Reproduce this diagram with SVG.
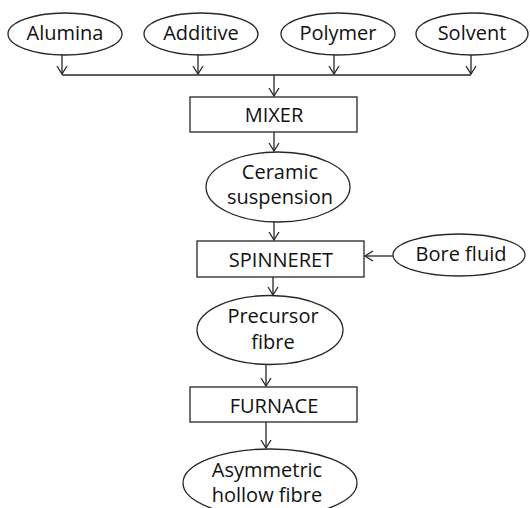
<svg xmlns="http://www.w3.org/2000/svg" width="530" height="508" viewBox="0 0 530 508">
<style>
.s{fill:#fff;stroke:#262626;stroke-width:1.3}
.t{font-family:"Open Sans","Liberation Sans",sans-serif;font-size:20px;fill:#111;text-anchor:middle}
.c{fill:none;stroke:#262626;stroke-width:1.3}
</style>
<defs>
<marker id="a" markerUnits="userSpaceOnUse" markerWidth="12" markerHeight="12" viewBox="0 0 12 12" refX="10" refY="6" orient="auto">
<path d="M2,1 L10,6 L2,11" fill="none" stroke="#262626" stroke-width="1.3"/>
</marker>
</defs>
<rect width="530" height="508" fill="#fff"/>
<g id="connectors">
<path class="c" d="M62,55 V74" marker-end="url(#a)"/>
<path class="c" d="M198,55 V74" marker-end="url(#a)"/>
<path class="c" d="M334,55 V74" marker-end="url(#a)"/>
<path class="c" d="M471,55 V74" marker-end="url(#a)"/>
<path class="c" d="M62,75 H471"/>
<path class="c" d="M274,75 V96" marker-end="url(#a)"/>
<path class="c" d="M274,132 V151" marker-end="url(#a)"/>
<path class="c" d="M274,221 V240" marker-end="url(#a)"/>
<path class="c" d="M393,256 H365" marker-end="url(#a)"/>
<path class="c" d="M273,277 V295" marker-end="url(#a)"/>
<path class="c" d="M266,365 V386" marker-end="url(#a)"/>
<path class="c" d="M266,422 V448" marker-end="url(#a)"/>
</g>
<g id="alumina"><ellipse class="s" cx="65" cy="34" rx="57" ry="21"/><text class="t" x="65" y="40">Alumina</text></g>
<g id="additive"><ellipse class="s" cx="201" cy="34" rx="57" ry="21"/><text class="t" x="201" y="40">Additive</text></g>
<g id="polymer"><ellipse class="s" cx="338" cy="34" rx="57" ry="21"/><text class="t" x="338" y="40">Polymer</text></g>
<g id="solvent"><ellipse class="s" cx="472" cy="34" rx="56" ry="21"/><text class="t" x="472" y="40">Solvent</text></g>
<g id="mixer"><rect class="s" x="190" y="97" width="167" height="35"/><text class="t" x="274" y="122">MIXER</text></g>
<g id="ceramic"><ellipse class="s" cx="278" cy="187" rx="72" ry="35"/><text class="t" x="280" y="179">Ceramic</text><text class="t" x="280" y="204">suspension</text></g>
<g id="spinneret"><rect class="s" x="197" y="241" width="167" height="36"/><text class="t" x="281" y="267">SPINNERET</text></g>
<g id="bore"><ellipse class="s" cx="459" cy="255" rx="66" ry="21"/><text class="t" x="461" y="261">Bore fluid</text></g>
<g id="precursor"><ellipse class="s" cx="270" cy="330" rx="73" ry="34.5"/><text class="t" x="273" y="323">Precursor</text><text class="t" x="273" y="349">fibre</text></g>
<g id="furnace"><rect class="s" x="190" y="387" width="167" height="35"/><text class="t" x="274" y="413">FURNACE</text></g>
<g id="asymmetric"><ellipse class="s" cx="270" cy="483" rx="87" ry="34"/><text class="t" x="267" y="477">Asymmetric</text><text class="t" x="267" y="502">hollow fibre</text></g>
</svg>
